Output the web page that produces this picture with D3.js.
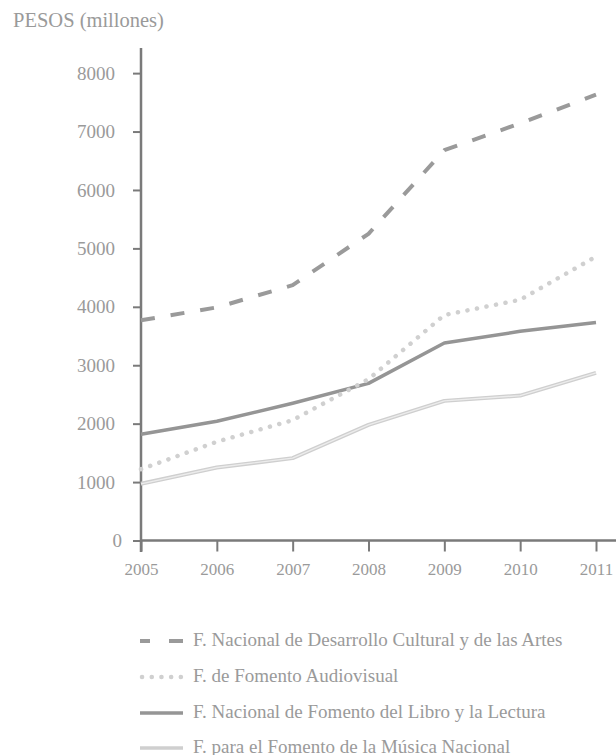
<!DOCTYPE html>
<html>
<head>
<meta charset="utf-8">
<script src="https://cdn.jsdelivr.net/npm/d3@7"></script>
<style>
  body { margin: 0; background: #fff; }
  svg { display: block; font-family: "Liberation Serif", "DejaVu Serif", serif; }
</style>
</head>
<body>
<svg id="chart"></svg>
<script>
const years = [2005, 2006, 2007, 2008, 2009, 2010, 2011];
const yTicks = [0, 1000, 2000, 3000, 4000, 5000, 6000, 7000, 8000];

const fondoCultural = [3770, 3990, 4370, 5250, 6680, 7140, 7630];
const fondoAudiovisual = [1220, 1690, 2060, 2760, 3860, 4120, 4860];
const fondoLibro = [1820, 2040, 2350, 2690, 3380, 3580, 3730];
const fondoMusica = [970, 1250, 1410, 1980, 2390, 2480, 2870];

const seriesNames = [
  "F. Nacional de Desarrollo Cultural y de las Artes",
  "F. de Fomento Audiovisual",
  "F. Nacional de Fomento del Libro y la Lectura",
  "F. para el Fomento de la Música Nacional"
];

const width = 616;
const height = 755;

const svg = d3.select("#chart")
  .attr("width", width)
  .attr("height", height);

const x = d3.scaleLinear()
  .domain([2005, 2011])
  .range([141, 596]);

const y = d3.scaleLinear()
  .domain([0, 8430])
  .range([540.5, 48]);

const axisColor = "#7a7a7a";
const textColor = "#9a9a9a";

// title
svg.append("text")
  .attr("x", 13)
  .attr("y", 27)
  .attr("fill", textColor)
  .style("font-size", "20.5px")
  .text("PESOS (millones)");

// y axis
const yAxis = svg.append("g")
  .attr("transform", `translate(${x(2005)},0)`)
  .call(d3.axisLeft(y).tickValues(yTicks).tickSize(8).tickPadding(18).tickFormat(d3.format("d")));
yAxis.select(".domain").remove();
yAxis.selectAll(".tick line").attr("stroke", axisColor).attr("stroke-width", 2);
yAxis.selectAll(".tick text")
  .attr("fill", textColor)
  .attr("dx", d => d === 0 ? 7 : 0)
  .style("font-size", "19px")
  .style("font-family", "Liberation Serif");
yAxis.append("line")
  .attr("y1", y.range()[1])
  .attr("y2", 552)
  .attr("stroke", axisColor)
  .attr("stroke-width", 2.5);

// x axis
const xAxis = svg.append("g")
  .attr("transform", `translate(0,${y(0)})`)
  .call(d3.axisBottom(x).tickValues(years).tickSize(11).tickPadding(11).tickFormat(d3.format("d")));
xAxis.select(".domain").remove();
xAxis.selectAll(".tick line").attr("stroke", axisColor).attr("stroke-width", 2);
xAxis.selectAll(".tick text")
  .attr("fill", textColor)
  .style("font-size", "17px")
  .style("font-family", "Liberation Serif");
xAxis.append("line")
  .attr("x1", x(2005) - 1)
  .attr("x2", width)
  .attr("stroke", axisColor)
  .attr("stroke-width", 2.5);

const line = d3.line()
  .x((d, i) => x(years[i]))
  .y(d => y(d));

const plot = svg.append("g").attr("fill", "none")
  .attr("stroke-linejoin", "round");

// música: light double line
plot.append("path")
  .attr("d", line(fondoMusica))
  .attr("stroke", "#cfcfcf")
  .attr("stroke-width", 4);
plot.append("path")
  .attr("d", line(fondoMusica))
  .attr("stroke", "#ececec")
  .attr("stroke-width", 1.4);

// libro: solid dark
plot.append("path")
  .attr("d", line(fondoLibro))
  .attr("stroke", "#959595")
  .attr("stroke-width", 3.5);

// audiovisual: dotted
plot.append("path")
  .attr("d", line(fondoAudiovisual))
  .attr("stroke", "#d0d0d0")
  .attr("stroke-width", 4.5)
  .attr("stroke-linecap", "round")
  .attr("stroke-dasharray", "0.1,9.6");

// cultural: dashed
plot.append("path")
  .attr("d", line(fondoCultural))
  .attr("stroke", "#9a9a9a")
  .attr("stroke-width", 4)
  .attr("stroke-dasharray", "14,16");

// legend
const legendY = [641, 677, 713, 748];
const legendStyles = [
  { stroke: "#9a9a9a", width: 4, dash: "10,19,14,0" },
  { stroke: "#d0d0d0", width: 4.5, dash: "0.1,9.6", cap: "round" },
  { stroke: "#959595", width: 3.5, dash: null },
  { stroke: "#cfcfcf", width: 3.5, dash: null }
];

const legend = svg.append("g");
seriesNames.forEach((name, i) => {
  const st = legendStyles[i];
  legend.append("line")
    .attr("x1", i === 1 ? 142 : 140)
    .attr("x2", 183)
    .attr("y1", legendY[i])
    .attr("y2", legendY[i])
    .attr("stroke", st.stroke)
    .attr("stroke-width", st.width)
    .attr("stroke-linecap", st.cap || "butt")
    .attr("stroke-dasharray", st.dash);
  legend.append("text")
    .attr("x", 193)
    .attr("y", legendY[i] + 4.5)
    .attr("fill", textColor)
    .style("font-size", "19px")
    .text(name);
});
</script>
</body>
</html>
